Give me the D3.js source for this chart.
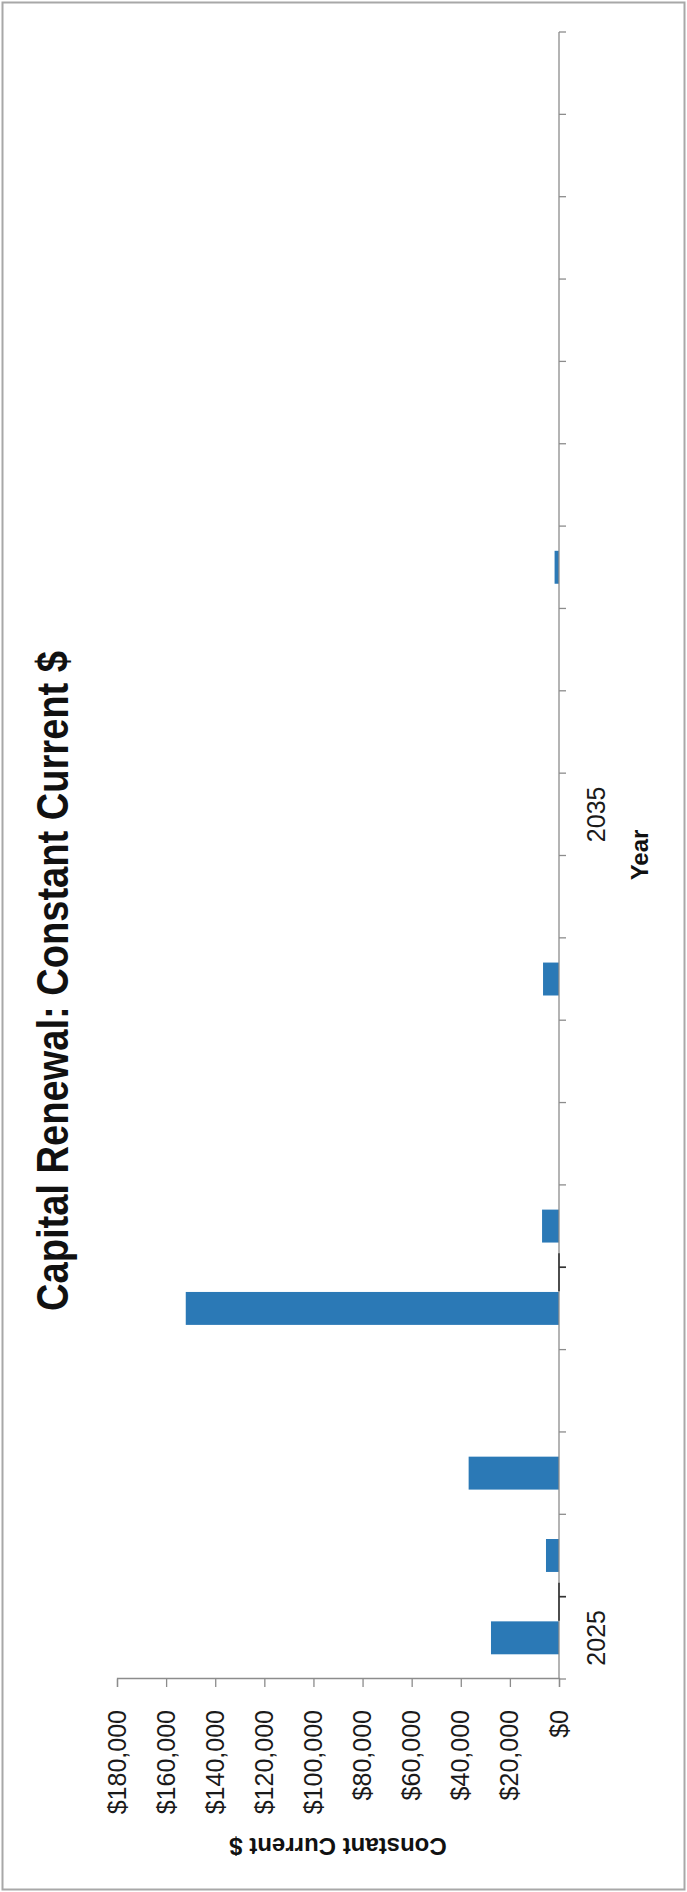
<!DOCTYPE html>
<html>
<head>
<meta charset="utf-8">
<script src="https://cdn.jsdelivr.net/npm/d3@7"></script>
<style>
  html, body { margin: 0; padding: 0; background: #ffffff; }
  svg { display: block; }
</style>
</head>
<body>
<div id="chart"></div>
<script>
// ---- data ----
const years = [2025, 2026, 2027, 2028, 2029, 2030, 2031, 2032, 2033, 2034,
               2035, 2036, 2037, 2038, 2039, 2040, 2041, 2042, 2043, 2044];
const values = [27700, 5300, 36800, 0, 152000, 6900, 0, 0, 6500, 0,
                0, 0, 0, 1800, 0, 0, 0, 0, 0, 0];
const valueTicks = [0, 20000, 40000, 60000, 80000, 100000, 120000, 140000, 160000, 180000];
const yearLabels = [2025, 2035];
const chartTitle = "Capital Renewal: Constant Current $";
const xTitle = "Year";
const yTitle = "Constant Current $";

// ---- layout ----
const W = 687, H = 1892;
const svg = d3.select("#chart").append("svg")
  .attr("width", W).attr("height", H);

// page border (scanned frame)
svg.append("rect")
  .attr("x", 2.5).attr("y", 2.5).attr("width", W - 5).attr("height", H - 5)
  .attr("fill", "none").attr("stroke", "#a8a8a8").attr("stroke-width", 2);

// The chart is a landscape chart printed rotated 90° counter-clockwise
const g = svg.append("g").attr("transform", `translate(0,${H}) rotate(-90)`);

const x = d3.scaleBand().domain(years).range([213, 1860])
  .paddingInner(0.6).paddingOuter(0.3);
const y = d3.scaleLinear().domain([0, 180000]).range([559, 117]);

const font = "'Liberation Sans', Arial, sans-serif";
const axisColor = "#8c8c8c";

// bars
g.selectAll("rect.bar").data(years.map((yr, i) => ({ yr, v: values[i] })).filter(d => d.v > 0))
  .enter().append("rect").attr("class", "bar")
  .attr("x", d => x(d.yr))
  .attr("width", x.bandwidth())
  .attr("y", d => y(d.v))
  .attr("height", d => y(0) - y(d.v))
  .attr("fill", "#2b79b6");

// value axis (left in original orientation)
const yAxis = d3.axisLeft(y).tickValues(valueTicks)
  .tickFormat(d3.format("$,")).tickSize(8).tickPadding(23);
const ya = g.append("g").attr("transform", `translate(213,0)`).call(yAxis);
ya.select(".domain").attr("stroke", axisColor).attr("stroke-width", 1.3);
ya.selectAll(".tick line").attr("stroke", axisColor).attr("stroke-width", 1.3);
ya.selectAll(".tick text").attr("font-family", font).attr("font-size", 25)
  .attr("fill", "#1a1a1a");

// category axis (bottom in original orientation)
const step = x.step();
const boundaries = years.map(yr => x(yr) + x.bandwidth() / 2 - step / 2)
  .concat([x(years[years.length - 1]) + x.bandwidth() / 2 + step / 2]);
const xa = g.append("g");
xa.append("line")
  .attr("x1", boundaries[0]).attr("x2", boundaries[boundaries.length - 1])
  .attr("y1", y(0)).attr("y2", y(0))
  .attr("stroke", axisColor).attr("stroke-width", 1.3);
xa.selectAll("line.tk").data(boundaries).enter().append("line").attr("class", "tk")
  .attr("x1", d => d).attr("x2", d => d)
  .attr("y1", y(0)).attr("y2", y(0) + 7)
  .attr("stroke", axisColor).attr("stroke-width", 1.3);
// darker (scanned) segments of the axis at two category boundaries
const darkAfter = [2025, 2029];
darkAfter.forEach(yr => {
  const b = x(yr) + x.bandwidth() / 2 + step / 2;
  xa.append("line").attr("x1", b - 24).attr("x2", b + 14)
    .attr("y1", y(0)).attr("y2", y(0)).attr("stroke", "#333").attr("stroke-width", 1.6);
  xa.append("line").attr("x1", b).attr("x2", b)
    .attr("y1", y(0)).attr("y2", y(0) + 7).attr("stroke", "#333").attr("stroke-width", 1.6);
});
xa.selectAll("text.yl").data(yearLabels).enter().append("text").attr("class", "yl")
  .attr("x", d => x(d) + x.bandwidth() / 2)
  .attr("y", 605)
  .attr("text-anchor", "middle")
  .attr("font-family", font).attr("font-size", 25).attr("fill", "#1a1a1a")
  .text(d => d);

// titles
g.append("text")
  .attr("x", 911).attr("y", 68)
  .attr("text-anchor", "middle")
  .attr("font-family", font).attr("font-size", 44).attr("font-weight", "bold")
  .attr("textLength", 660).attr("lengthAdjust", "spacingAndGlyphs")
  .attr("fill", "#111")
  .text(chartTitle);

g.append("text")
  .attr("x", 1037).attr("y", 648)
  .attr("text-anchor", "middle")
  .attr("font-family", font).attr("font-size", 24).attr("font-weight", "bold")
  .attr("fill", "#111")
  .text(xTitle);

g.append("text")
  .attr("transform", `translate(54,338) rotate(-90)`)
  .attr("text-anchor", "middle")
  .attr("font-family", font).attr("font-size", 24).attr("font-weight", "bold")
  .attr("fill", "#111")
  .text(yTitle);
</script>
</body>
</html>
